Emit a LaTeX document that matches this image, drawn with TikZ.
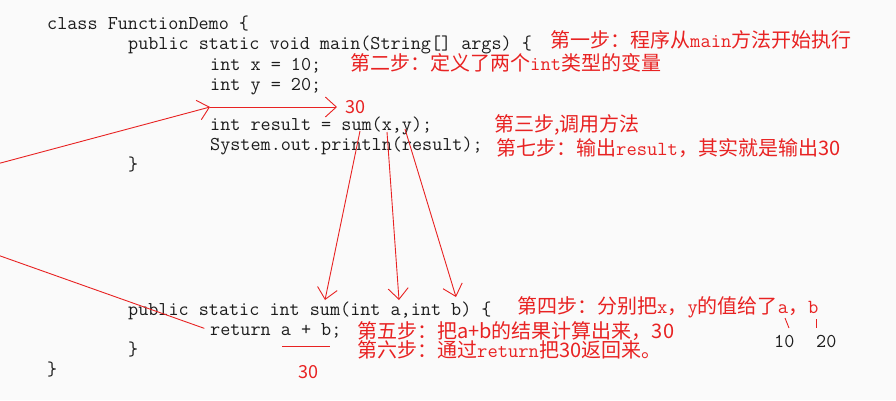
\documentclass[tikz,border=0pt]{standalone}
\usepackage{fontspec}
\newfontfamily\cjk{Noto Sans CJK SC}
\usetikzlibrary{arrows.meta}
\definecolor{annot}{RGB}{232,34,34}
\definecolor{codeink}{RGB}{28,28,28}
\definecolor{paper}{RGB}{250,250,250}
\newcommand{\codefont}{\ttfamily\fontsize{19.6}{20}\selectfont}
\newcommand{\notefont}{\cjk\fontsize{20}{20}\selectfont}
\newcommand{\lat}[1]{{\ttfamily #1}}

\begin{document}
\begin{tikzpicture}[x=1pt, y=-1pt,
		code/.style={font=\codefont, text=codeink, anchor=base west, inner sep=0pt},
		note/.style={font=\notefont, text=annot, anchor=base west, inner sep=0pt},
		num/.style={font=\cjk\fontsize{18}{18}\selectfont, text=annot, inner sep=0pt},
		redline/.style={draw=annot, line width=0.9pt},
		redarr/.style={redline, -{Straight Barb[length=11pt, width=20pt]}}
		]
		\fill[paper] (0,0) rectangle (896,400);
		\useasboundingbox (0,0) rectangle (896,400);
		\clip (0,0) rectangle (896,400);
		
		% code
		\node[code] (cls) at (47,29) {class FunctionDemo \{};
		\node[code] (main) at (128,49) {public static void main(String[] args) \{};
		\node[code] (decx) at (210,70) {int x = 10;};
		\node[code] (decy) at (210,90) {int y = 20;};
		\node[code] (call) at (210,130) {int result = sum(x,y);};
		\node[code] (print) at (210,150) {System.out.println(result);};
		\node[code] (mainend) at (128,170) {\}};
		\node[code] (sum) at (128,315) {public static int sum(int a,int b) \{};
		\node[code] (ret) at (210,335) {return a + b;};
		\node[code] (sumend) at (128,355) {\}};
		\node[code] (clsend) at (47,375) {\}};
		
		% steps
		\node[note] (s1) at (550,47) {第一步：程序从\lat{main}方法开始执行};
		\node[note] (s2) at (350,70) {第二步：定义了两个\lat{int}类型的变量};
		\node[note] (s3) at (494,131) {第三步,调用方法};
		\node[note] (s7) at (496,155) {第七步：输出\lat{result}，其实就是输出30};
		\node[note] (s4) at (517,313) {第四步：分别把\lat{x}，\lat{y}的值给了\lat{a}，\lat{b}};
		\node[note] (s5) at (357,338) {第五步：把a+b的结果计算出来，30};
		\node[note] (s6) at (357,357) {第六步：通过\lat{return}把30返回来。};
		
		% values
		\node[num, anchor=west, inner xsep=8pt] (res30) at (337,107) {30};
		\node[num, anchor=base west] (sum30) at (298,378) {30};
		\node[code] (va) at (774,347) {10};
		\node[code] (vb) at (816,347) {20};
		
		\coordinate (back) at (210,107);
		\coordinate (far) at (-149,203);
		\coordinate (argsum) at (360,131);
		\coordinate (argx) at (387,132);
		\coordinate (argy) at (405,129);
		\coordinate (parsum) at (325,300);
		\coordinate (para) at (399,300);
		\coordinate (parb) at (456,297);
		\coordinate (ul1) at (282,346);
		\coordinate (ul2) at (330,346);
		\coordinate (ta1) at (785,318);
		\coordinate (ta2) at (789,328);
		\coordinate (tb1) at (816,319);
		\coordinate (tb2) at (816,328);
		
		\draw[redarr, shorten <=6pt] (ret.west) -- (far) -- (back);
		\draw[redarr] (back) -- (res30.west);
		\foreach \s/\t in {argsum/parsum, argx/para, argy/parb}
		\draw[redarr] (\s) -- (\t);
		\draw[redline] (ul1) -- (ul2);
		\draw[redline] (ta1) -- (ta2);
		\draw[redline] (tb1) -- (tb2);
	\end{tikzpicture}
\end{document}
